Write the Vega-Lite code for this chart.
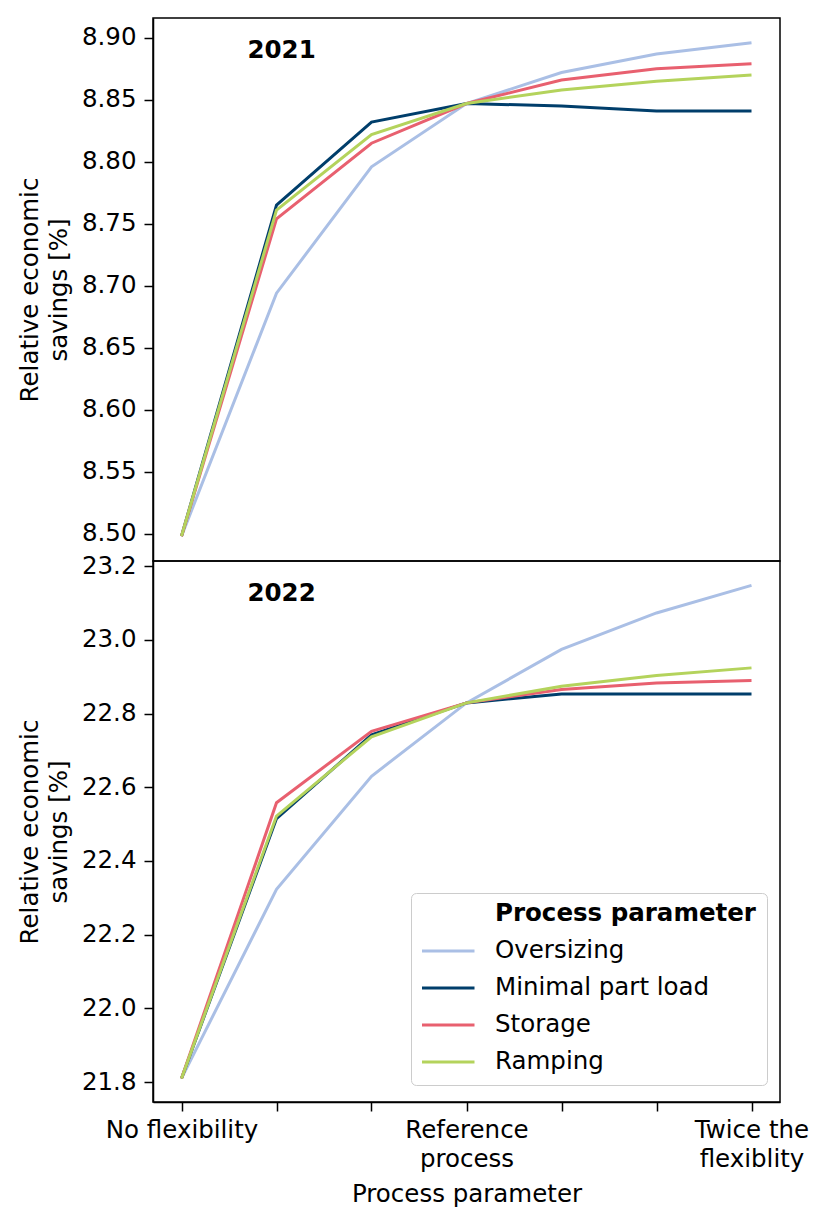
{
  "$schema": "https://vega.github.io/schema/vega-lite/v6.json",
  "padding": {"left": 16, "top": 17, "right": 10, "bottom": 5},
  "spacing": 0,
  "bounds": "flush",
  "background": "white",
  "config": {
    "font": "DejaVu Sans",
    "view": {"stroke": "black", "strokeWidth": 1.5},
    "axis": {
      "grid": false,
      "domainColor": "black",
      "domainWidth": 1.5,
      "tickColor": "black",
      "tickWidth": 1.5,
      "tickSize": 9,
      "labelColor": "black",
      "labelFontSize": 24.5,
      "labelPadding": 8,
      "titleColor": "black",
      "titleFontSize": 24.5,
      "titleFontWeight": "normal"
    }
  },
  "datasets": {
    "y2021": [
      {"parameter": "Oversizing", "step": 0, "value": 8.498},
      {"parameter": "Oversizing", "step": 1, "value": 8.694},
      {"parameter": "Oversizing", "step": 2, "value": 8.796},
      {"parameter": "Oversizing", "step": 3, "value": 8.847},
      {"parameter": "Oversizing", "step": 4, "value": 8.872},
      {"parameter": "Oversizing", "step": 5, "value": 8.887},
      {"parameter": "Oversizing", "step": 6, "value": 8.896},
      {"parameter": "Minimal part load", "step": 0, "value": 8.498},
      {"parameter": "Minimal part load", "step": 1, "value": 8.765},
      {"parameter": "Minimal part load", "step": 2, "value": 8.832},
      {"parameter": "Minimal part load", "step": 3, "value": 8.847},
      {"parameter": "Minimal part load", "step": 4, "value": 8.845},
      {"parameter": "Minimal part load", "step": 5, "value": 8.841},
      {"parameter": "Minimal part load", "step": 6, "value": 8.841},
      {"parameter": "Storage", "step": 0, "value": 8.498},
      {"parameter": "Storage", "step": 1, "value": 8.754},
      {"parameter": "Storage", "step": 2, "value": 8.815},
      {"parameter": "Storage", "step": 3, "value": 8.847},
      {"parameter": "Storage", "step": 4, "value": 8.866},
      {"parameter": "Storage", "step": 5, "value": 8.875},
      {"parameter": "Storage", "step": 6, "value": 8.879},
      {"parameter": "Ramping", "step": 0, "value": 8.498},
      {"parameter": "Ramping", "step": 1, "value": 8.761},
      {"parameter": "Ramping", "step": 2, "value": 8.822},
      {"parameter": "Ramping", "step": 3, "value": 8.847},
      {"parameter": "Ramping", "step": 4, "value": 8.858},
      {"parameter": "Ramping", "step": 5, "value": 8.865},
      {"parameter": "Ramping", "step": 6, "value": 8.870}
    ],
    "y2022": [
      {"parameter": "Oversizing", "step": 0, "value": 21.81},
      {"parameter": "Oversizing", "step": 1, "value": 22.323},
      {"parameter": "Oversizing", "step": 2, "value": 22.630},
      {"parameter": "Oversizing", "step": 3, "value": 22.829},
      {"parameter": "Oversizing", "step": 4, "value": 22.974},
      {"parameter": "Oversizing", "step": 5, "value": 23.073},
      {"parameter": "Oversizing", "step": 6, "value": 23.148},
      {"parameter": "Minimal part load", "step": 0, "value": 21.81},
      {"parameter": "Minimal part load", "step": 1, "value": 22.515},
      {"parameter": "Minimal part load", "step": 2, "value": 22.742},
      {"parameter": "Minimal part load", "step": 3, "value": 22.829},
      {"parameter": "Minimal part load", "step": 4, "value": 22.853},
      {"parameter": "Minimal part load", "step": 5, "value": 22.853},
      {"parameter": "Minimal part load", "step": 6, "value": 22.853},
      {"parameter": "Storage", "step": 0, "value": 21.81},
      {"parameter": "Storage", "step": 1, "value": 22.558},
      {"parameter": "Storage", "step": 2, "value": 22.752},
      {"parameter": "Storage", "step": 3, "value": 22.829},
      {"parameter": "Storage", "step": 4, "value": 22.865},
      {"parameter": "Storage", "step": 5, "value": 22.883},
      {"parameter": "Storage", "step": 6, "value": 22.890},
      {"parameter": "Ramping", "step": 0, "value": 21.81},
      {"parameter": "Ramping", "step": 1, "value": 22.522},
      {"parameter": "Ramping", "step": 2, "value": 22.737},
      {"parameter": "Ramping", "step": 3, "value": 22.829},
      {"parameter": "Ramping", "step": 4, "value": 22.874},
      {"parameter": "Ramping", "step": 5, "value": 22.903},
      {"parameter": "Ramping", "step": 6, "value": 22.924}
    ]
  },
  "resolve": {"legend": {"color": "independent"}},
  "vconcat": [
    {
      "width": 627,
      "height": 543,
      "layer": [
        {
          "data": {"name": "y2021"},
          "mark": {"type": "line", "strokeWidth": 3},
          "encoding": {
            "x": {"field": "step", "type": "quantitative", "scale": {"domain": [-0.3, 6.3], "nice": false, "zero": false}, "axis": null},
            "y": {"field": "value", "type": "quantitative", "scale": {"domain": [8.478, 8.916], "nice": false, "zero": false},
                  "axis": {"values": [8.5, 8.55, 8.6, 8.65, 8.7, 8.75, 8.8, 8.85, 8.9], "format": ".2f", "title": ["Relative economic", "savings [%]"], "titleLineHeight": 29.4, "titlePadding": 10}},
            "color": {"field": "parameter", "type": "nominal",
                      "scale": {"domain": ["Process parameter", "Oversizing", "Minimal part load", "Storage", "Ramping"], "range": ["rgba(0,0,0,0)", "#aabfe5", "#003e6b", "#e8606f", "#b4d35c"]},
                      "legend": null}
          }
        },
        {
          "data": {"values": [{"label": "2021"}]},
          "mark": {"type": "text", "fontWeight": "bold", "fontSize": 24.5, "align": "left", "baseline": "middle", "color": "black"},
          "encoding": {"x": {"datum": 0.695}, "y": {"datum": 8.889}, "text": {"field": "label"}}
        }
      ]
    },
    {
      "width": 627,
      "height": 541,
      "layer": [
        {
          "data": {"name": "y2022"},
          "mark": {"type": "line", "strokeWidth": 3},
          "encoding": {
            "x": {"field": "step", "type": "quantitative", "scale": {"domain": [-0.3, 6.3], "nice": false, "zero": false},
                  "axis": {"values": [0, 1, 2, 3, 4, 5, 6], "title": "Process parameter", "labelOverlap": false, "labelFlush": false, "labelBound": false, "labelLineHeight": 29, "labelPadding": 7, "titlePadding": 12,
                           "labelExpr": "datum.value == 0 ? 'No flexibility' : datum.value == 3 ? ['Reference', 'process'] : datum.value == 6 ? ['Twice the', 'flexiblity'] : ''"}},
            "y": {"field": "value", "type": "quantitative", "scale": {"domain": [21.746, 23.214], "nice": false, "zero": false},
                  "axis": {"values": [21.8, 22.0, 22.2, 22.4, 22.6, 22.8, 23.0, 23.2], "format": ".1f", "title": ["Relative economic", "savings [%]"], "titleLineHeight": 29.4, "titlePadding": 10}},
            "color": {"field": "parameter", "type": "nominal",
                      "scale": {"domain": ["Process parameter", "Oversizing", "Minimal part load", "Storage", "Ramping"], "range": ["rgba(0,0,0,0)", "#aabfe5", "#003e6b", "#e8606f", "#b4d35c"]},
                      "legend": {
                        "title": null,
                        "orient": "none",
                        "legendX": 258,
                        "legendY": 332,
                        "symbolType": "stroke",
                        "symbolSize": 2809,
                        "symbolStrokeWidth": 3,
                        "symbolOffset": -2,
                        "clipHeight": 20,
                        "rowPadding": 12,
                        "labelOffset": 19,
                        "labelFontSize": 24.5,
                        "labelColor": "black",
                        "labelLimit": 400,
                        "padding": 11,
                        "strokeColor": "#cccccc",
                        "cornerRadius": 5,
                        "fillColor": "white",
                        "encode": {"labels": {"update": {"fontWeight": {"signal": "datum.value === 'Process parameter' ? 'bold' : 'normal'"}}}}
                      }}
          }
        },
        {
          "data": {"values": [{"label": "2022"}]},
          "mark": {"type": "text", "fontWeight": "bold", "fontSize": 24.5, "align": "left", "baseline": "middle", "color": "black"},
          "encoding": {"x": {"datum": 0.695}, "y": {"datum": 23.124}, "text": {"field": "label"}}
        }
      ]
    }
  ]
}
